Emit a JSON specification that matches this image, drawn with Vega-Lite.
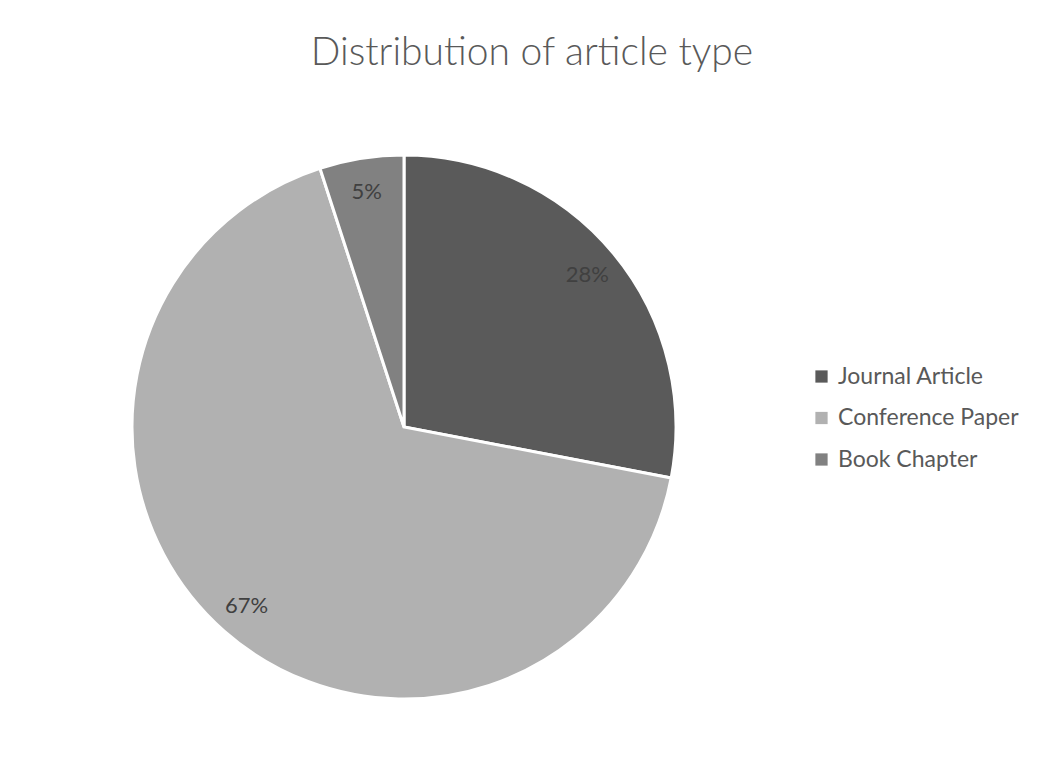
{
  "$schema": "https://vega.github.io/schema/vega-lite/v6.json",
  "width": 544,
  "height": 544,
  "autosize": "none",
  "padding": {"left": 132, "top": 155, "right": 375, "bottom": 72},
  "background": "white",
  "title": {
    "text": "Distribution of article type",
    "font": "Lato",
    "fontSize": 39,
    "fontWeight": 300,
    "color": "#595959",
    "anchor": "middle",
    "dx": 128,
    "offset": 76
  },
  "data": {
    "values": [
      {"type": "Journal Article", "share": 28, "label": "28%", "rank": 1},
      {"type": "Conference Paper", "share": 67, "label": "67%", "rank": 2},
      {"type": "Book Chapter", "share": 5, "label": "5%", "rank": 3}
    ]
  },
  "encoding": {
    "theta": {"field": "share", "type": "quantitative", "stack": true},
    "order": {"field": "rank", "type": "quantitative"},
    "color": {
      "field": "type",
      "type": "nominal",
      "scale": {
        "domain": ["Journal Article", "Conference Paper", "Book Chapter"],
        "range": ["#5a5a5a", "#b1b1b1", "#818181"]
      },
      "legend": {
        "title": null,
        "orient": "none",
        "legendX": 678,
        "legendY": 210,
        "symbolType": "square",
        "symbolSize": 150,
        "symbolStrokeWidth": 0,
        "labelFont": "Lato",
        "labelFontSize": 23,
        "labelColor": "#595959",
        "labelOffset": 5,
        "labelLimit": 400,
        "rowPadding": 17.5
      }
    }
  },
  "layer": [
    {"mark": {"type": "arc", "outerRadius": 272, "stroke": "white", "strokeWidth": 3}},
    {
      "mark": {"type": "text", "radius": 238, "font": "Lato", "fontSize": 22, "fill": "#404040"},
      "encoding": {"text": {"field": "label"}}
    }
  ],
  "config": {"view": {"stroke": null}}
}
